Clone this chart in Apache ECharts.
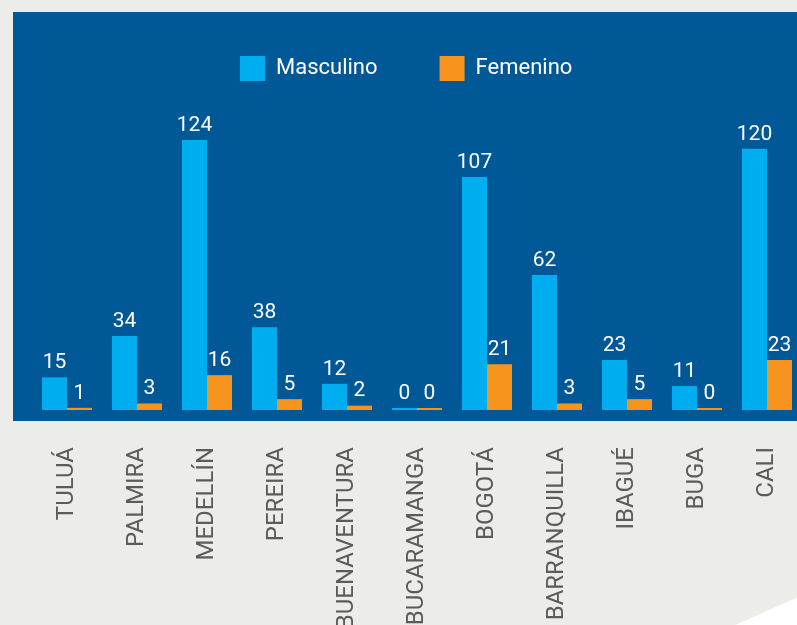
<!DOCTYPE html>
<html><head><meta charset="utf-8">
<script src="https://cdn.jsdelivr.net/npm/echarts@6/dist/echarts.min.js"></script>
<style>html,body{margin:0;padding:0;background:#ececE8;overflow:hidden;}#c{width:797px;height:625px;}</style>
</head><body><div id="c"></div>
<script>
const categories = ['TULUÁ','PALMIRA','MEDELLÍN','PEREIRA','BUENAVENTURA','BUCARAMANGA','BOGOTÁ','BARRANQUILLA','IBAGUÉ','BUGA','CALI'];
const masculino = [15,34,124,38,12,0,107,62,23,11,120];
const femenino = [1,3,16,5,2,0,21,3,5,0,23];
const seriesNames = ['Masculino','Femenino'];

const chart = echarts.init(document.getElementById('c'), null, {renderer:'canvas'});
const font = 'Roboto, "DejaVu Sans", sans-serif';
const labelCfg = {show:true, position:'top', distance:4, color:'#ffffff', fontSize:21, fontFamily:font};
chart.setOption({
  backgroundColor:'#ececE8',
  animation:false,
  graphic:[
    {type:'rect', z:-10, silent:true, shape:{x:13,y:12,width:790,height:409}, style:{fill:'#005896'}},
    {type:'polygon', z:-10, silent:true, shape:{points:[[733,626],[798,597],[798,626]]}, style:{fill:'#ffffff'}}
  ],
  legend:{
    data:seriesNames, top:51, left:235, itemWidth:25, itemHeight:25, itemGap:62,
    icon:'rect',
    textStyle:{color:'#ffffff', fontSize:22, fontFamily:font, padding:[0,0,0,6]}
  },
  grid:{left:32, width:770, top:127, bottom:215, containLabel:false, outerBoundsMode:'none'},
  xAxis:{
    type:'category', data:categories,
    axisLine:{show:false}, axisTick:{show:false},
    axisLabel:{rotate:90, margin:37, color:'#5b5b5b', fontSize:24, fontFamily:font, interval:0}
  },
  yAxis:{type:'value', min:0, max:130, show:false, splitLine:{show:false}},
  series:[
    {name:seriesNames[0], type:'bar', data:masculino, barWidth:25, barGap:'0%', barMinHeight:2,
     itemStyle:{color:'#00aeef'}, label:labelCfg},
    {name:seriesNames[1], type:'bar', data:femenino, barWidth:25, barGap:'0%', barMinHeight:2,
     itemStyle:{color:'#f7941d'}, label:labelCfg}
  ]
});
</script></body></html>
